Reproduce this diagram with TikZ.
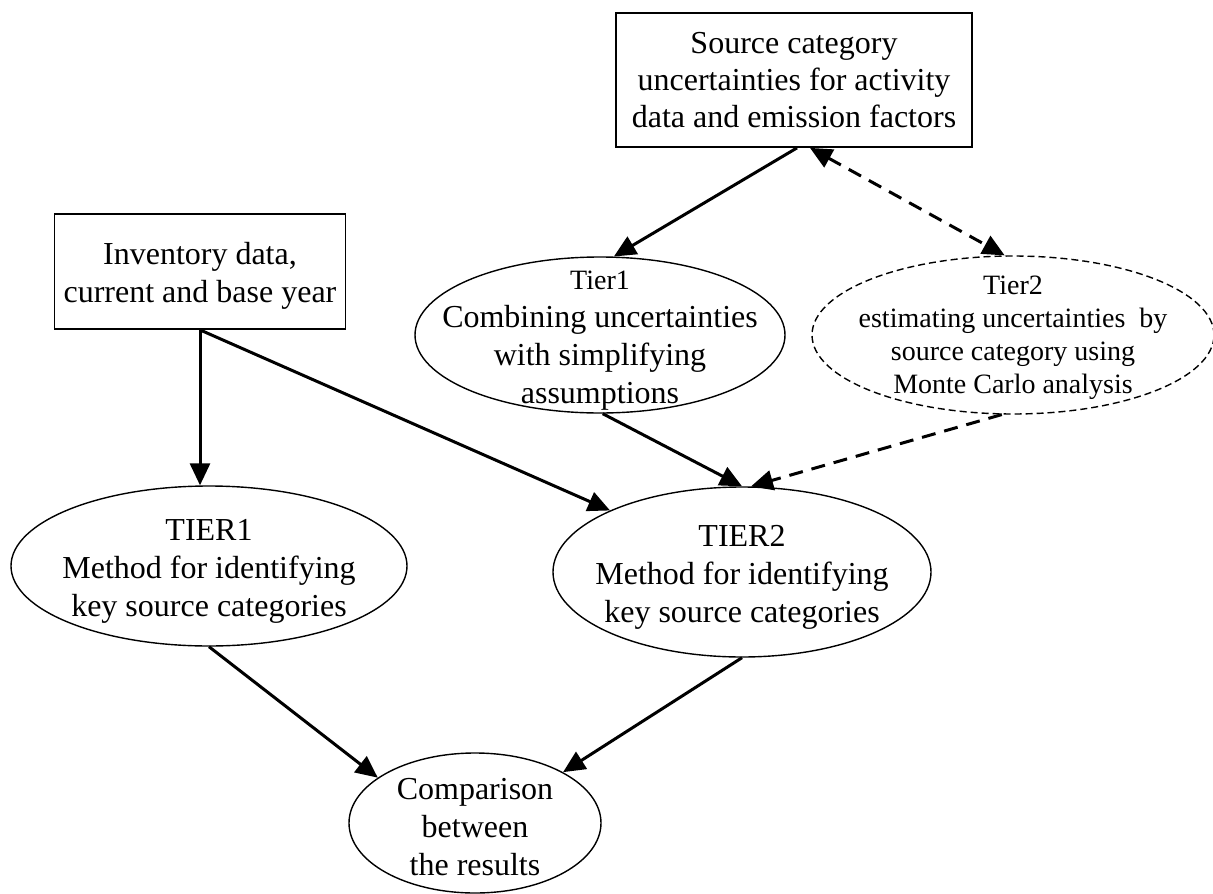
\documentclass[tikz,border=0pt]{standalone}
\usepackage{fontspec}
\setmainfont{Liberation Serif}
\usetikzlibrary{arrows.meta,shapes.geometric}
\tikzset{
  boxnode/.style={draw, line width=1.8pt, rectangle, inner sep=0pt, align=center,
    font=\fontsize{32pt}{37pt}\selectfont},
  ellnode/.style={draw, line width=1.4pt, ellipse, inner sep=0pt},
  dellnode/.style={draw, line width=1.4pt, ellipse, inner sep=0pt, dash pattern=on 7pt off 4pt},
  txt/.style={align=center, inner sep=0pt, font=\fontsize{32pt}{38pt}\selectfont},
  stxt/.style={align=center, inner sep=0pt, font=\fontsize{28pt}{33pt}\selectfont},
  arr/.style={line width=3pt, -{Triangle[length=22pt,width=20pt]}},
  darr/.style={line width=3pt, dash pattern=on 14pt off 9pt, -{Triangle[length=22pt,width=20pt]}},
  ddarr/.style={line width=3pt, dash pattern=on 14pt off 9pt, {Triangle[length=22pt,width=20pt]}-{Triangle[length=22pt,width=20pt]}}
}
\begin{document}
\begin{tikzpicture}[x=1pt,y=-1pt]
\useasboundingbox (0,0) rectangle (1213,894);
% boxes
\node[boxnode, minimum width=356pt, minimum height=134pt] (src) at (794,80)
  {Source category\\uncertainties for activity\\data and emission factors};
\node[boxnode, minimum width=291pt, minimum height=115pt] (inv) at (200,271.5) {};
\node[txt, yshift=-4pt] (invt) at (inv) {Inventory data,\\current and base year};
% ellipses
\node[ellnode, minimum width=370pt, minimum height=156pt] (t1) at (600,335) {};
\node[txt, yshift=-6pt] (t1t) at (t1) {{\fontsize{28pt}{32pt}\selectfont Tier1}\\Combining uncertainties\\with simplifying\\assumptions};
\node[dellnode, minimum width=402pt, minimum height=158pt] (t2) at (1013,335) {};
\node[stxt, yshift=-3pt] (t2t) at (t2) {Tier2\\estimating uncertainties\ \ by\\source category using\\Monte Carlo analysis};
\node[ellnode, minimum width=396pt, minimum height=160pt] (T1) at (209,566) {};
\node[txt, yshift=-5pt] (T1t) at (T1) {TIER1\\Method for identifying\\key source categories};
\node[ellnode, minimum width=378pt, minimum height=170pt] (T2) at (742,572) {};
\node[txt, yshift=-5pt] (T2t) at (T2) {TIER2\\Method for identifying\\key source categories};
\node[ellnode, minimum width=252pt, minimum height=140pt] (cmp) at (475,823) {};
\node[txt, yshift=-4pt] (cmpt) at (cmp) {Comparison\\between\\the results};
% connectors
\draw[arr] ([xshift=3pt]src.south) -- (t1.80);
\draw[ddarr] ([xshift=16pt]src.south) -- (t2.96);
\draw[arr] (inv.south) -- (T1.north -| inv.south);
\draw[arr] (inv.south) -- (T2.155);
\draw[arr] (t1.-88) -- (T2.north);
\draw[darr] (t2.-98) -- (T2.84);
\draw[arr] (T1.south) -- (cmp.155);
\draw[arr] (T2.south) -- (cmp.30);
\end{tikzpicture}
\end{document}
